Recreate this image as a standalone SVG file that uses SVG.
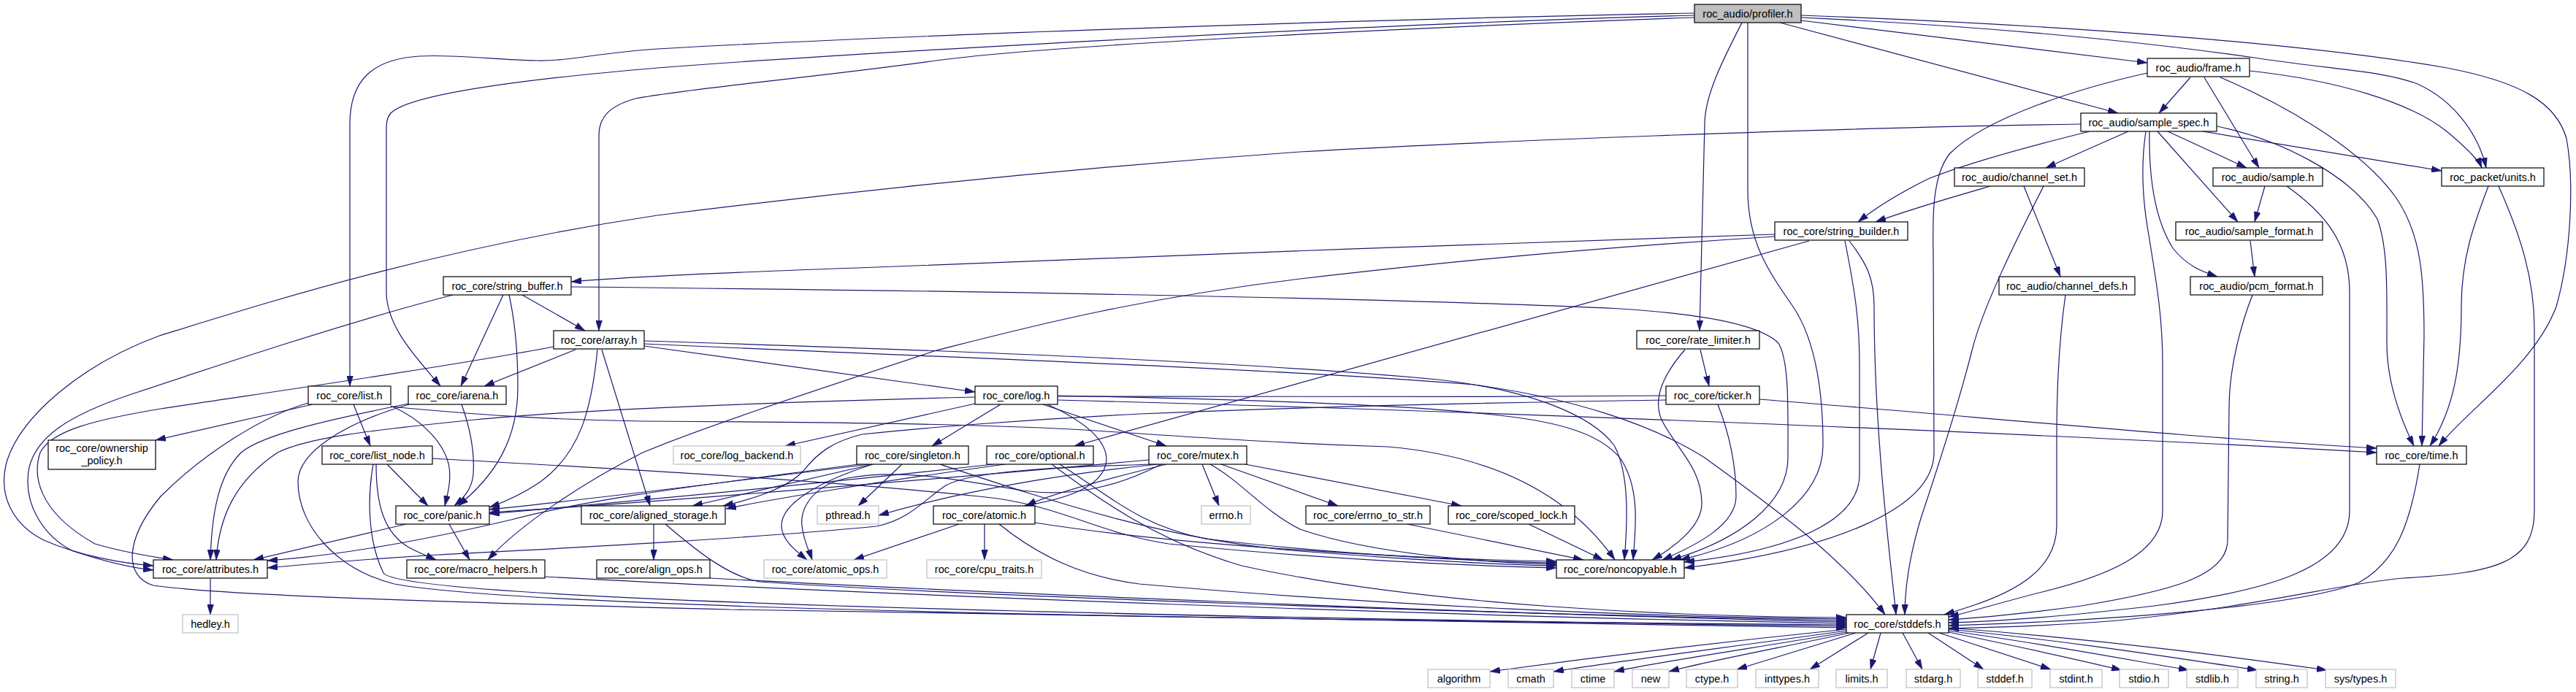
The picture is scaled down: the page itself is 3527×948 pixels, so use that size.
<svg xmlns="http://www.w3.org/2000/svg" width="3527" height="948" viewBox="0 0 3527 948">
<style>
.n rect{fill:#fff;stroke:#000;stroke-width:1.2}
.g rect{fill:#fff;stroke:#bfbfbf;stroke-width:1.2}
.p rect{fill:#bfbfbf;stroke:#000;stroke-width:1.2}
text{font-family:"Liberation Sans",Arial,sans-serif;font-size:14.5px;text-anchor:middle;fill:#000}
#edges path{fill:none;stroke:#191970;stroke-width:1.2;marker-end:url(#a)}
</style>
<defs>
<marker id="a" viewBox="0 0 14 9" refX="14" refY="4.5" markerWidth="14" markerHeight="9" orient="auto" markerUnits="userSpaceOnUse">
<path d="M0,0 L14,4.5 L0,9 z" fill="#191970" stroke="#191970" stroke-width="0.5"/>
</marker>
</defs>
<rect width="3527" height="948" fill="#fff"/>
<g id="edges">
<path d="M2320,18 C1800,28 1200,50 900,67 C820,72 780,84 735,83 C680,82 620,74 574,77 C510,81 479,110 479,170 L479,529"/>
<path d="M2320,21 C1900,32 1200,70 900,93 C700,110 560,130 535,155 C529,162 529,170 529,180 L529,400 C529,450 575,495 603,529"/>
<path d="M2320,24 C2000,35 1450,60 1282,83 C1100,108 950,120 870,135 C835,145 820,160 820,185 L820,453"/>
<path d="M2385,31 C2360,80 2334,130 2334,170 L2327,453"/>
<path d="M2393,31 L2393,260 C2393,330 2420,370 2455,420 C2485,465 2496,530 2496,610 C2496,680 2420,740 2300,767"/>
<path d="M2466,28 L2940,86"/>
<path d="M2437,31 L2900,155"/>
<path d="M2466,24 C2700,35 2900,52 3093,80 C3200,96 3262,97 3310,115 C3365,140 3395,190 3404,230"/>
<path d="M2466,21 C2800,33 3150,58 3350,93 C3450,112 3500,140 3514,190 C3525,250 3520,350 3500,420 C3470,500 3380,560 3339,611"/>
<path d="M2999,106 L2956,155"/>
<path d="M3018,106 L3093,230"/>
<path d="M3040,106 C3120,140 3230,200 3280,270 C3315,320 3319,380 3319,460 L3316,611"/>
<path d="M3080,97 C3200,110 3300,140 3350,180 C3380,205 3394,220 3398,230"/>
<path d="M2940,100 C2850,120 2720,160 2670,210 C2645,240 2646,300 2647,350 L2648,620 C2648,700 2500,755 2306,778"/>
<path d="M2849,170 C2500,175 2000,195 1780,208 C1400,235 1100,270 900,295 C600,340 380,410 218,460 C110,500 30,570 10,630 C-5,680 20,720 60,740 C110,762 170,772 210,775"/>
<path d="M2861,180 C2780,200 2690,225 2640,245 C2600,265 2570,283 2544,304"/>
<path d="M2914,180 L2801,230"/>
<path d="M2938,180 C2932,220 2932,260 2940,310 C2955,400 2961,440 2961,500 L2961,700 C2961,760 2880,790 2800,810 C2740,825 2700,838 2668,845"/>
<path d="M2943,180 C2942,240 2950,300 2975,340 C2995,365 3015,372 3036,379"/>
<path d="M2954,180 L3064,304"/>
<path d="M2968,180 L3076,230"/>
<path d="M3016,180 L3343,234"/>
<path d="M3035,173 C3120,190 3220,240 3255,300 C3270,340 3268,400 3268,470 C3268,520 3285,570 3305,611"/>
<path d="M2725,255 C2680,268 2620,285 2568,304"/>
<path d="M2798,255 C2760,330 2715,420 2700,480 C2680,560 2650,650 2630,710 C2615,760 2608,800 2608,842"/>
<path d="M2771,255 L2821,379"/>
<path d="M3101,255 L3087,304"/>
<path d="M3131,255 C3180,290 3217,330 3217,400 L3217,700 C3217,780 3100,810 2950,830 C2820,845 2720,852 2668,853"/>
<path d="M3407,255 C3390,300 3370,350 3370,420 C3370,500 3360,560 3327,611"/>
<path d="M3421,255 C3450,320 3470,380 3470,450 L3470,700 C3470,770 3420,785 3290,792 C3200,800 3100,830 2900,850 C2800,858 2720,860 2668,861"/>
<path d="M3313,636 C3300,720 3280,770 3230,798 C3150,830 2900,850 2668,857"/>
<path d="M3081,330 L3087,379"/>
<path d="M3084,404 C3070,440 3052,500 3052,560 L3050,740 C3050,790 2970,810 2850,830 C2760,842 2700,847 2668,849"/>
<path d="M2828,404 C2820,460 2816,520 2816,600 L2816,720 C2816,780 2760,810 2700,830 C2685,835 2672,839 2662,842"/>
<path d="M2430,321 C2100,330 1500,355 1200,366 C1000,373 850,380 782,386"/>
<path d="M2430,324 C2100,345 1900,368 1780,382 C1550,410 1400,450 1282,480 C1100,540 950,590 880,620 C800,660 710,720 668,767"/>
<path d="M2477,330 L1471,611"/>
<path d="M2526,330 C2540,400 2546,440 2546,500 L2546,650 C2546,715 2450,755 2306,770"/>
<path d="M2532,330 C2555,360 2566,380 2566,420 C2566,600 2590,780 2596,842"/>
<path d="M782,393 C1300,398 1900,408 2219,423 C2330,430 2410,445 2435,470 C2450,495 2448,560 2448,627 C2448,690 2380,740 2288,767"/>
<path d="M620,404 C480,440 300,500 180,540 C90,570 50,600 40,640 C30,690 60,735 100,755 C140,768 180,778 210,781"/>
<path d="M689,404 L631,529"/>
<path d="M697,404 C705,440 709,480 709,530 C709,600 680,650 627,693"/>
<path d="M715,404 L801,453"/>
<path d="M758,475 C600,505 350,540 220,560 C130,575 70,590 55,620 C45,650 50,700 130,745 C170,757 210,763 237,767"/>
<path d="M788,479 L663,529"/>
<path d="M818,479 C810,560 795,620 740,660 C715,677 690,688 670,695"/>
<path d="M824,479 L890,693"/>
<path d="M882,474 L1335,537"/>
<path d="M882,467 C1300,480 1700,495 1969,520 C2100,535 2180,570 2210,610 C2232,650 2228,720 2224,767"/>
<path d="M882,471 C1300,490 1750,505 2018,527 C2150,545 2260,580 2334,627 C2420,690 2520,760 2581,842"/>
<path d="M428,554 L213,603"/>
<path d="M484,554 L507,611"/>
<path d="M535,556 C580,575 610,610 615,640 C618,660 612,680 609,693"/>
<path d="M535,557 C650,568 750,575 880,577 C1100,578 1339,580 1500,590 C1650,600 1750,607 1900,612 C2050,625 2150,680 2211,767"/>
<path d="M422,552 C360,570 280,620 220,680 C170,740 170,790 210,802 C300,815 600,825 1000,835 C1600,845 2200,855 2528,860"/>
<path d="M559,553 C450,575 360,595 330,620 C300,650 290,700 288,767"/>
<path d="M560,554 C470,580 408,620 408,660 C408,720 460,780 540,800 C700,830 1500,848 2528,856"/>
<path d="M632,554 C645,590 650,620 648,650 C646,670 635,682 622,693"/>
<path d="M530,636 L586,693"/>
<path d="M515,636 C515,690 525,730 560,750 C575,758 588,763 597,767"/>
<path d="M511,636 C503,680 503,740 525,785 C545,815 1200,840 2528,858"/>
<path d="M592,628 C800,640 1100,655 1340,680 C1450,690 1500,730 1600,745 C1800,765 2000,775 2131,778"/>
<path d="M556,718 L347,767"/>
<path d="M615,718 L643,767"/>
<path d="M895,718 L895,767"/>
<path d="M911,718 C960,760 1000,790 1040,797 C1300,815 2000,840 2528,850"/>
<path d="M972,792 C1300,810 2000,840 2528,852"/>
<path d="M746,790 C1200,815 2000,845 2528,854"/>
<path d="M288,793 L288,842"/>
<path d="M1335,553 L1075,611"/>
<path d="M1370,554 L1276,611"/>
<path d="M1428,554 L1597,611"/>
<path d="M1434,554 C1480,575 1515,600 1515,630 C1512,670 1450,685 1402,693"/>
<path d="M1448,542 C1600,545 1900,552 2033,567 C2120,575 2190,590 2220,630 C2245,670 2240,720 2236,767"/>
<path d="M1448,548 C2000,562 2800,594 3254,620"/>
<path d="M2281,542 C2000,544 1700,545 1448,543 L1335,544 C1100,550 800,560 650,575 C500,590 420,600 380,620 C320,660 300,710 296,767"/>
<path d="M2281,548 C2000,552 1800,557 1561,567 C1400,575 1255,587 1180,595 C1140,605 1120,620 1100,645 C1075,672 1020,686 990,693"/>
<path d="M1195,636 L948,693"/>
<path d="M1190,636 C1000,660 800,685 670,698"/>
<path d="M1235,636 L1175,693"/>
<path d="M1195,636 C1120,660 1070,690 1070,720 C1070,740 1090,755 1105,767"/>
<path d="M1287,636 C1450,690 1600,740 1780,755 C1950,768 2050,774 2131,775"/>
<path d="M1175,636 C1000,660 820,680 700,712 C560,745 450,762 366,768"/>
<path d="M1376,636 C1200,660 1050,685 994,697"/>
<path d="M1360,636 C1100,665 850,688 670,704"/>
<path d="M1451,636 C1520,680 1560,720 1650,738 C1850,762 2050,770 2131,771"/>
<path d="M1440,636 C1500,680 1580,740 1700,775 C1950,830 2300,845 2528,846"/>
<path d="M1597,636 C1500,660 1430,680 1405,693"/>
<path d="M1646,636 L1669,693"/>
<path d="M1672,636 L1832,693"/>
<path d="M1705,636 L2001,693"/>
<path d="M1657,636 C1700,660 1730,700 1780,725 C1880,760 2050,772 2131,773"/>
<path d="M1573,630 C1300,655 900,688 670,702"/>
<path d="M1585,636 C1450,650 1320,672 1203,706"/>
<path d="M1575,636 C1450,640 1330,645 1295,665 C1265,685 1245,712 1200,721 C1000,740 750,752 600,760 C500,766 420,773 366,778"/>
<path d="M1590,636 C1520,672 1460,680 1400,672 C1300,655 1230,642 1160,655 C1110,665 1095,700 1098,720 C1100,740 1108,755 1112,767"/>
<path d="M1313,718 L1169,767"/>
<path d="M1348,718 L1348,767"/>
<path d="M1368,718 C1420,760 1480,790 1560,800 C1900,830 2250,845 2528,848"/>
<path d="M1417,716 C1600,745 1900,765 2131,769"/>
<path d="M1927,718 L2168,767"/>
<path d="M2093,718 L2195,767"/>
<path d="M2328,479 L2340,529"/>
<path d="M2307,479 C2280,510 2262,545 2275,575 C2295,615 2330,640 2330,690 C2330,720 2295,748 2262,767"/>
<path d="M2352,554 C2370,600 2377,640 2377,680 C2377,720 2320,748 2276,767"/>
<path d="M2409,547 C2700,570 3000,600 3254,614"/>
<path d="M2528,862 C2350,880 2150,905 2040,920"/>
<path d="M2528,864 C2380,885 2220,905 2127,920"/>
<path d="M2528,866 C2420,885 2280,905 2210,920"/>
<path d="M2532,867 C2450,885 2340,905 2285,920"/>
<path d="M2541,867 L2378,917"/>
<path d="M2558,867 L2478,917"/>
<path d="M2575,867 L2561,917"/>
<path d="M2605,867 L2632,917"/>
<path d="M2640,867 L2716,917"/>
<path d="M2655,867 L2808,917"/>
<path d="M2668,866 C2760,885 2850,905 2905,918"/>
<path d="M2668,864 C2800,882 2920,905 2997,918"/>
<path d="M2668,862 C2850,880 3000,905 3091,918"/>
<path d="M2668,860 C2900,878 3080,903 3186,918"/>
</g>
<g id="profiler" class="p"><rect x="2320" y="6" width="146" height="25"/><text x="2393" y="23.5">roc_audio/profiler.h</text></g>
<g id="frame" class="n"><rect x="2940" y="80" width="140" height="25"/><text x="3010" y="97.5">roc_audio/frame.h</text></g>
<g id="sample_spec" class="n"><rect x="2849" y="155" width="186" height="25"/><text x="2942" y="172.5">roc_audio/sample_spec.h</text></g>
<g id="channel_set" class="n"><rect x="2676" y="230" width="178" height="25"/><text x="2765" y="247.5">roc_audio/channel_set.h</text></g>
<g id="sample" class="n"><rect x="3030" y="230" width="150" height="25"/><text x="3105" y="247.5">roc_audio/sample.h</text></g>
<g id="units" class="n"><rect x="3343" y="230" width="140" height="25"/><text x="3413" y="247.5">roc_packet/units.h</text></g>
<g id="string_builder" class="n"><rect x="2430" y="304" width="182" height="25"/><text x="2521" y="321.5">roc_core/string_builder.h</text></g>
<g id="sample_format" class="n"><rect x="2979" y="304" width="201" height="25"/><text x="3079.5" y="321.5">roc_audio/sample_format.h</text></g>
<g id="string_buffer" class="n"><rect x="607" y="379" width="175" height="25"/><text x="694.5" y="396.5">roc_core/string_buffer.h</text></g>
<g id="channel_defs" class="n"><rect x="2737" y="379" width="186" height="25"/><text x="2830" y="396.5">roc_audio/channel_defs.h</text></g>
<g id="pcm_format" class="n"><rect x="2999" y="379" width="181" height="25"/><text x="3089.5" y="396.5">roc_audio/pcm_format.h</text></g>
<g id="array" class="n"><rect x="758" y="453" width="124" height="25"/><text x="820" y="470.5">roc_core/array.h</text></g>
<g id="rate_limiter" class="n"><rect x="2241" y="453" width="168" height="25"/><text x="2325" y="470.5">roc_core/rate_limiter.h</text></g>
<g id="list" class="n"><rect x="422" y="529" width="113" height="25"/><text x="478.5" y="546.5">roc_core/list.h</text></g>
<g id="iarena" class="n"><rect x="559" y="529" width="134" height="25"/><text x="626" y="546.5">roc_core/iarena.h</text></g>
<g id="log" class="n"><rect x="1335" y="529" width="113" height="25"/><text x="1391.5" y="546.5">roc_core/log.h</text></g>
<g id="ticker" class="n"><rect x="2281" y="529" width="128" height="25"/><text x="2345" y="546.5">roc_core/ticker.h</text></g>
<g id="ownership_policy" class="n"><rect x="66" y="603" width="147" height="40"/><text x="139.5" y="619">roc_core/ownership</text><text x="139.5" y="636">_policy.h</text></g>
<g id="list_node" class="n"><rect x="441" y="611" width="151" height="25"/><text x="516.5" y="628.5">roc_core/list_node.h</text></g>
<g id="log_backend" class="g"><rect x="922" y="611" width="174" height="25"/><text x="1009" y="628.5">roc_core/log_backend.h</text></g>
<g id="singleton" class="n"><rect x="1173" y="611" width="153" height="25"/><text x="1249.5" y="628.5">roc_core/singleton.h</text></g>
<g id="optional" class="n"><rect x="1351" y="611" width="146" height="25"/><text x="1424" y="628.5">roc_core/optional.h</text></g>
<g id="mutex" class="n"><rect x="1573" y="611" width="134" height="25"/><text x="1640" y="628.5">roc_core/mutex.h</text></g>
<g id="time" class="n"><rect x="3254" y="611" width="123" height="25"/><text x="3315.5" y="628.5">roc_core/time.h</text></g>
<g id="panic" class="n"><rect x="542" y="693" width="128" height="25"/><text x="606" y="710.5">roc_core/panic.h</text></g>
<g id="aligned_storage" class="n"><rect x="796" y="693" width="197" height="25"/><text x="894.5" y="710.5">roc_core/aligned_storage.h</text></g>
<g id="pthread" class="g"><rect x="1119" y="693" width="84" height="25"/><text x="1161" y="710.5">pthread.h</text></g>
<g id="atomic" class="n"><rect x="1278" y="693" width="139" height="25"/><text x="1347.5" y="710.5">roc_core/atomic.h</text></g>
<g id="errno" class="g"><rect x="1645" y="693" width="67" height="25"/><text x="1678.5" y="710.5">errno.h</text></g>
<g id="errno_to_str" class="n"><rect x="1788" y="693" width="170" height="25"/><text x="1873" y="710.5">roc_core/errno_to_str.h</text></g>
<g id="scoped_lock" class="n"><rect x="1983" y="693" width="173" height="25"/><text x="2069.5" y="710.5">roc_core/scoped_lock.h</text></g>
<g id="attributes" class="n"><rect x="210" y="767" width="156" height="25"/><text x="288" y="784.5">roc_core/attributes.h</text></g>
<g id="macro_helpers" class="n"><rect x="557" y="767" width="189" height="25"/><text x="651.5" y="784.5">roc_core/macro_helpers.h</text></g>
<g id="align_ops" class="n"><rect x="817" y="767" width="155" height="25"/><text x="894.5" y="784.5">roc_core/align_ops.h</text></g>
<g id="atomic_ops" class="g"><rect x="1046" y="767" width="168" height="25"/><text x="1130" y="784.5">roc_core/atomic_ops.h</text></g>
<g id="cpu_traits" class="g"><rect x="1269" y="767" width="157" height="25"/><text x="1347.5" y="784.5">roc_core/cpu_traits.h</text></g>
<g id="noncopyable" class="n"><rect x="2131" y="767" width="175" height="25"/><text x="2218.5" y="784.5">roc_core/noncopyable.h</text></g>
<g id="hedley" class="g"><rect x="250" y="842" width="76" height="25"/><text x="288" y="859.5">hedley.h</text></g>
<g id="stddefs" class="n"><rect x="2528" y="842" width="140" height="25"/><text x="2598" y="859.5">roc_core/stddefs.h</text></g>
<g id="algorithm" class="g"><rect x="1955" y="917" width="85" height="25"/><text x="1997.5" y="934.5">algorithm</text></g>
<g id="cmath" class="g"><rect x="2065" y="917" width="62" height="25"/><text x="2096" y="934.5">cmath</text></g>
<g id="ctime" class="g"><rect x="2152" y="917" width="58" height="25"/><text x="2181" y="934.5">ctime</text></g>
<g id="new" class="g"><rect x="2235" y="917" width="50" height="25"/><text x="2260" y="934.5">new</text></g>
<g id="ctype" class="g"><rect x="2309" y="917" width="70" height="25"/><text x="2344" y="934.5">ctype.h</text></g>
<g id="inttypes" class="g"><rect x="2404" y="917" width="86" height="25"/><text x="2447" y="934.5">inttypes.h</text></g>
<g id="limits" class="g"><rect x="2514" y="917" width="70" height="25"/><text x="2549" y="934.5">limits.h</text></g>
<g id="stdarg" class="g"><rect x="2610" y="917" width="74" height="25"/><text x="2647" y="934.5">stdarg.h</text></g>
<g id="stddef" class="g"><rect x="2708" y="917" width="74" height="25"/><text x="2745" y="934.5">stddef.h</text></g>
<g id="stdint" class="g"><rect x="2807" y="917" width="71" height="25"/><text x="2842.5" y="934.5">stdint.h</text></g>
<g id="stdio" class="g"><rect x="2902" y="917" width="67" height="25"/><text x="2935.5" y="934.5">stdio.h</text></g>
<g id="stdlib" class="g"><rect x="2994" y="917" width="70" height="25"/><text x="3029" y="934.5">stdlib.h</text></g>
<g id="string" class="g"><rect x="3089" y="917" width="70" height="25"/><text x="3124" y="934.5">string.h</text></g>
<g id="sys_types" class="g"><rect x="3184" y="917" width="96" height="25"/><text x="3232" y="934.5">sys/types.h</text></g>
</svg>
